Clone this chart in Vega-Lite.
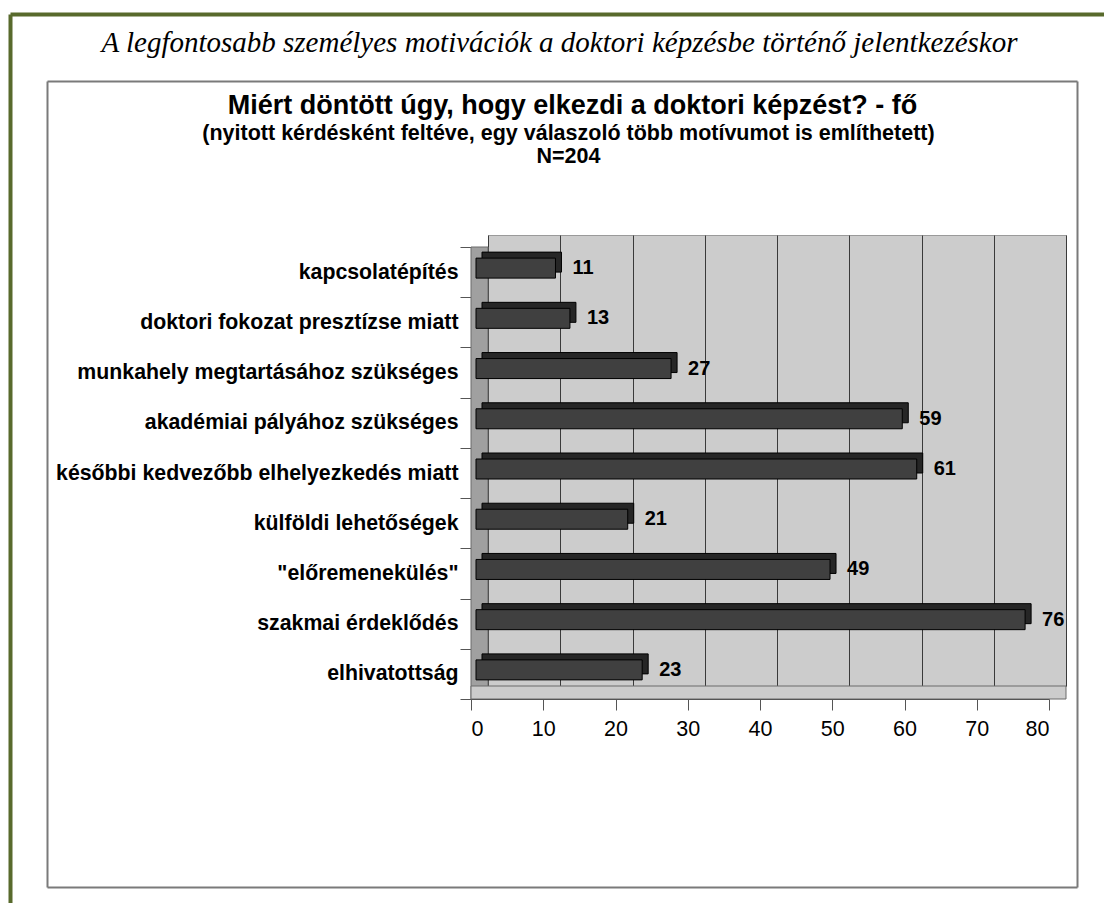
{
  "$schema": "https://vega.github.io/schema/vega-lite/v6.json",
  "width": 578,
  "height": 451,
  "autosize": {"type": "none"},
  "padding": {"left": 488, "top": 235, "right": 38, "bottom": 217},
  "background": "white",
  "data": {
    "values": [
      {"motiv": "kapcsolatépítés", "n": 11},
      {"motiv": "doktori fokozat presztízse miatt", "n": 13},
      {"motiv": "munkahely megtartásához szükséges", "n": 27},
      {"motiv": "akadémiai pályához szükséges", "n": 59},
      {"motiv": "későbbi kedvezőbb elhelyezkedés miatt", "n": 61},
      {"motiv": "külföldi lehetőségek", "n": 21},
      {"motiv": "\"előremenekülés\"", "n": 49},
      {"motiv": "szakmai érdeklődés", "n": 76},
      {"motiv": "elhivatottság", "n": 23}
    ]
  },
  "config": {
    "view": {"fill": "#cccccc", "stroke": "#9a9a9a", "strokeWidth": 1},
    "font": "Liberation Sans"
  },
  "resolve": {
    "scale": {"x": "independent", "y": "independent"},
    "axis": {"x": "independent", "y": "independent"}
  },
  "layer": [
    {
      "data": {"values": [{}]},
      "mark": {"type": "rule", "opacity": 0},
      "encoding": {
        "x": {
          "datum": 0, "type": "quantitative",
          "scale": {"domain": [0, 80], "range": [0, 578], "nice": false},
          "axis": {"orient": "top", "grid": true, "gridColor": "#3a3a3a", "gridWidth": 1, "gridOpacity": 1,
                   "ticks": false, "labels": false, "domain": false, "title": null,
                   "values": [0, 10, 20, 30, 40, 50, 60, 70, 80]}
        }
      }
    },
    {
      "data": {"values": [{}]},
      "layer": [
        {
          "mark": {"type": "rect", "fill": "#a0a0a0", "stroke": "#6a6a6a", "strokeWidth": 1, "yOffset": 12, "x2Offset": 17, "y2Offset": 13},
          "encoding": {
            "x": {"datum": 0, "type": "quantitative", "scale": {"domain": [0, 80], "range": [-17, 561], "nice": false}, "axis": null},
            "x2": {"datum": 0},
            "y": {"datum": 0, "type": "quantitative", "scale": {"domain": [0, 1], "range": [0, 451], "nice": false}, "axis": null},
            "y2": {"datum": 1}
          }
        },
        {
          "mark": {"type": "rect", "fill": "#cccccc", "stroke": "#6a6a6a", "strokeWidth": 1, "x2Offset": 17, "y2Offset": 13},
          "encoding": {
            "x": {"datum": 0, "type": "quantitative"},
            "x2": {"datum": 80},
            "y": {"datum": 1, "type": "quantitative"},
            "y2": {"datum": 1}
          }
        }
      ]
    },
    {
      "layer": [
        {
          "mark": {"type": "bar", "fill": "#262626", "stroke": "#000000", "strokeWidth": 1, "size": 20, "xOffset": 11, "yOffset": -10},
          "encoding": {
            "y": {
              "field": "motiv", "type": "nominal", "sort": null,
              "scale": {"range": [12, 464], "paddingInner": 0, "paddingOuter": 0},
              "axis": {"orient": "left", "offset": 17, "tickBand": "extent", "tickSize": 11, "tickColor": "#555555",
                       "domain": false, "grid": false, "title": null, "labelFont": "Liberation Sans", "labelFontSize": 21.3,
                       "labelFontWeight": "bold", "labelColor": "#000000", "labelPadding": 2, "labelLimit": 500}
            },
            "x": {
              "field": "n", "type": "quantitative",
              "scale": {"domain": [0, 80], "range": [-17, 561], "nice": false},
              "axis": {"orient": "bottom", "offset": 13, "zindex": 1, "domainColor": "#555555", "domainWidth": 1,
                       "tickColor": "#555555", "tickSize": 11, "labelFontSize": 21.5, "labelColor": "#000000",
                       "labelFont": "Liberation Sans", "labelPadding": 8, "grid": false, "title": null,
                       "values": [0, 10, 20, 30, 40, 50, 60, 70, 80]}
            }
          }
        },
        {
          "mark": {"type": "bar", "fill": "#404040", "stroke": "#000000", "strokeWidth": 1, "size": 20, "xOffset": 5, "yOffset": -4},
          "encoding": {
            "y": {"field": "motiv", "type": "nominal", "sort": null},
            "x": {"field": "n", "type": "quantitative"}
          }
        },
        {
          "mark": {"type": "text", "align": "left", "baseline": "middle", "dx": 22, "yOffset": -4, "fontSize": 20, "fontWeight": "bold", "font": "Liberation Sans", "color": "#000000"},
          "encoding": {
            "y": {"field": "motiv", "type": "nominal", "sort": null},
            "x": {"field": "n", "type": "quantitative"},
            "text": {"field": "n", "type": "quantitative"}
          }
        }
      ]
    },
    {
      "data": {"values": [{}]},
      "mark": {"type": "point", "opacity": 0},
      "encoding": {
        "x": {
          "datum": 0, "type": "quantitative",
          "scale": {"domain": [0, 1], "range": [-478, 626], "nice": false},
          "axis": {"orient": "top", "offset": 221, "domainColor": "#586a2c", "domainWidth": 4, "ticks": false, "labels": false, "grid": false,
                   "title": "A legfontosabb személyes motivációk a doktori képzésbe történő jelentkezéskor",
                   "titleFont": "Liberation Serif", "titleFontStyle": "italic", "titleFontWeight": "normal", "titleFontSize": 29,
                   "titleColor": "#000000", "titleX": 71, "titleY": 37, "titleAlign": "center", "titleBaseline": "alphabetic"}
        },
        "y": {
          "datum": 0, "type": "quantitative",
          "scale": {"domain": [0, 1], "range": [-221, 678], "nice": false},
          "axis": {"orient": "left", "offset": 478, "domainColor": "#586a2c", "domainWidth": 4, "ticks": false, "labels": false, "grid": false, "title": null}
        }
      }
    },
    {
      "data": {"values": [{}]},
      "mark": {"type": "point", "opacity": 0},
      "encoding": {
        "x": {
          "datum": 0, "type": "quantitative",
          "scale": {"domain": [0, 1], "range": [-441, 589], "nice": false},
          "axis": {"orient": "top", "offset": 154, "domainColor": "#7a7a7a", "domainWidth": 2, "ticks": false, "labels": false, "grid": false,
                   "title": "Miért döntött úgy, hogy elkezdi a doktori képzést?  - fő",
                   "titleFont": "Liberation Sans", "titleFontWeight": "bold", "titleFontSize": 27,
                   "titleColor": "#000000", "titleX": 84, "titleY": 32, "titleAlign": "center", "titleBaseline": "alphabetic"}
        },
        "y": {
          "datum": 0, "type": "quantitative",
          "scale": {"domain": [0, 1], "range": [-154, 652], "nice": false},
          "axis": {"orient": "left", "offset": 441, "domainColor": "#7a7a7a", "domainWidth": 2, "ticks": false, "labels": false, "grid": false,
                   "title": ["(nyitott kérdésként feltéve, egy válaszoló több motívumot is említhetett)", "N=204"],
                   "titleAngle": 0, "titleFont": "Liberation Sans", "titleFontWeight": "bold", "titleFontSize": 21.5,
                   "titleColor": "#000000", "titleX": 521, "titleY": -96, "titleLineHeight": 23, "titleAlign": "center", "titleBaseline": "alphabetic"}
        }
      }
    },
    {
      "data": {"values": [{}]},
      "mark": {"type": "point", "opacity": 0},
      "encoding": {
        "x": {
          "datum": 0, "type": "quantitative",
          "scale": {"domain": [0, 1], "range": [-441, 589], "nice": false},
          "axis": {"orient": "bottom", "offset": 201, "domainColor": "#7a7a7a", "domainWidth": 2, "ticks": false, "labels": false, "grid": false, "title": null}
        },
        "y": {
          "datum": 0, "type": "quantitative",
          "scale": {"domain": [0, 1], "range": [-154, 652], "nice": false},
          "axis": {"orient": "right", "offset": 11, "domainColor": "#7a7a7a", "domainWidth": 2, "ticks": false, "labels": false, "grid": false, "title": null}
        }
      }
    }
  ]
}
